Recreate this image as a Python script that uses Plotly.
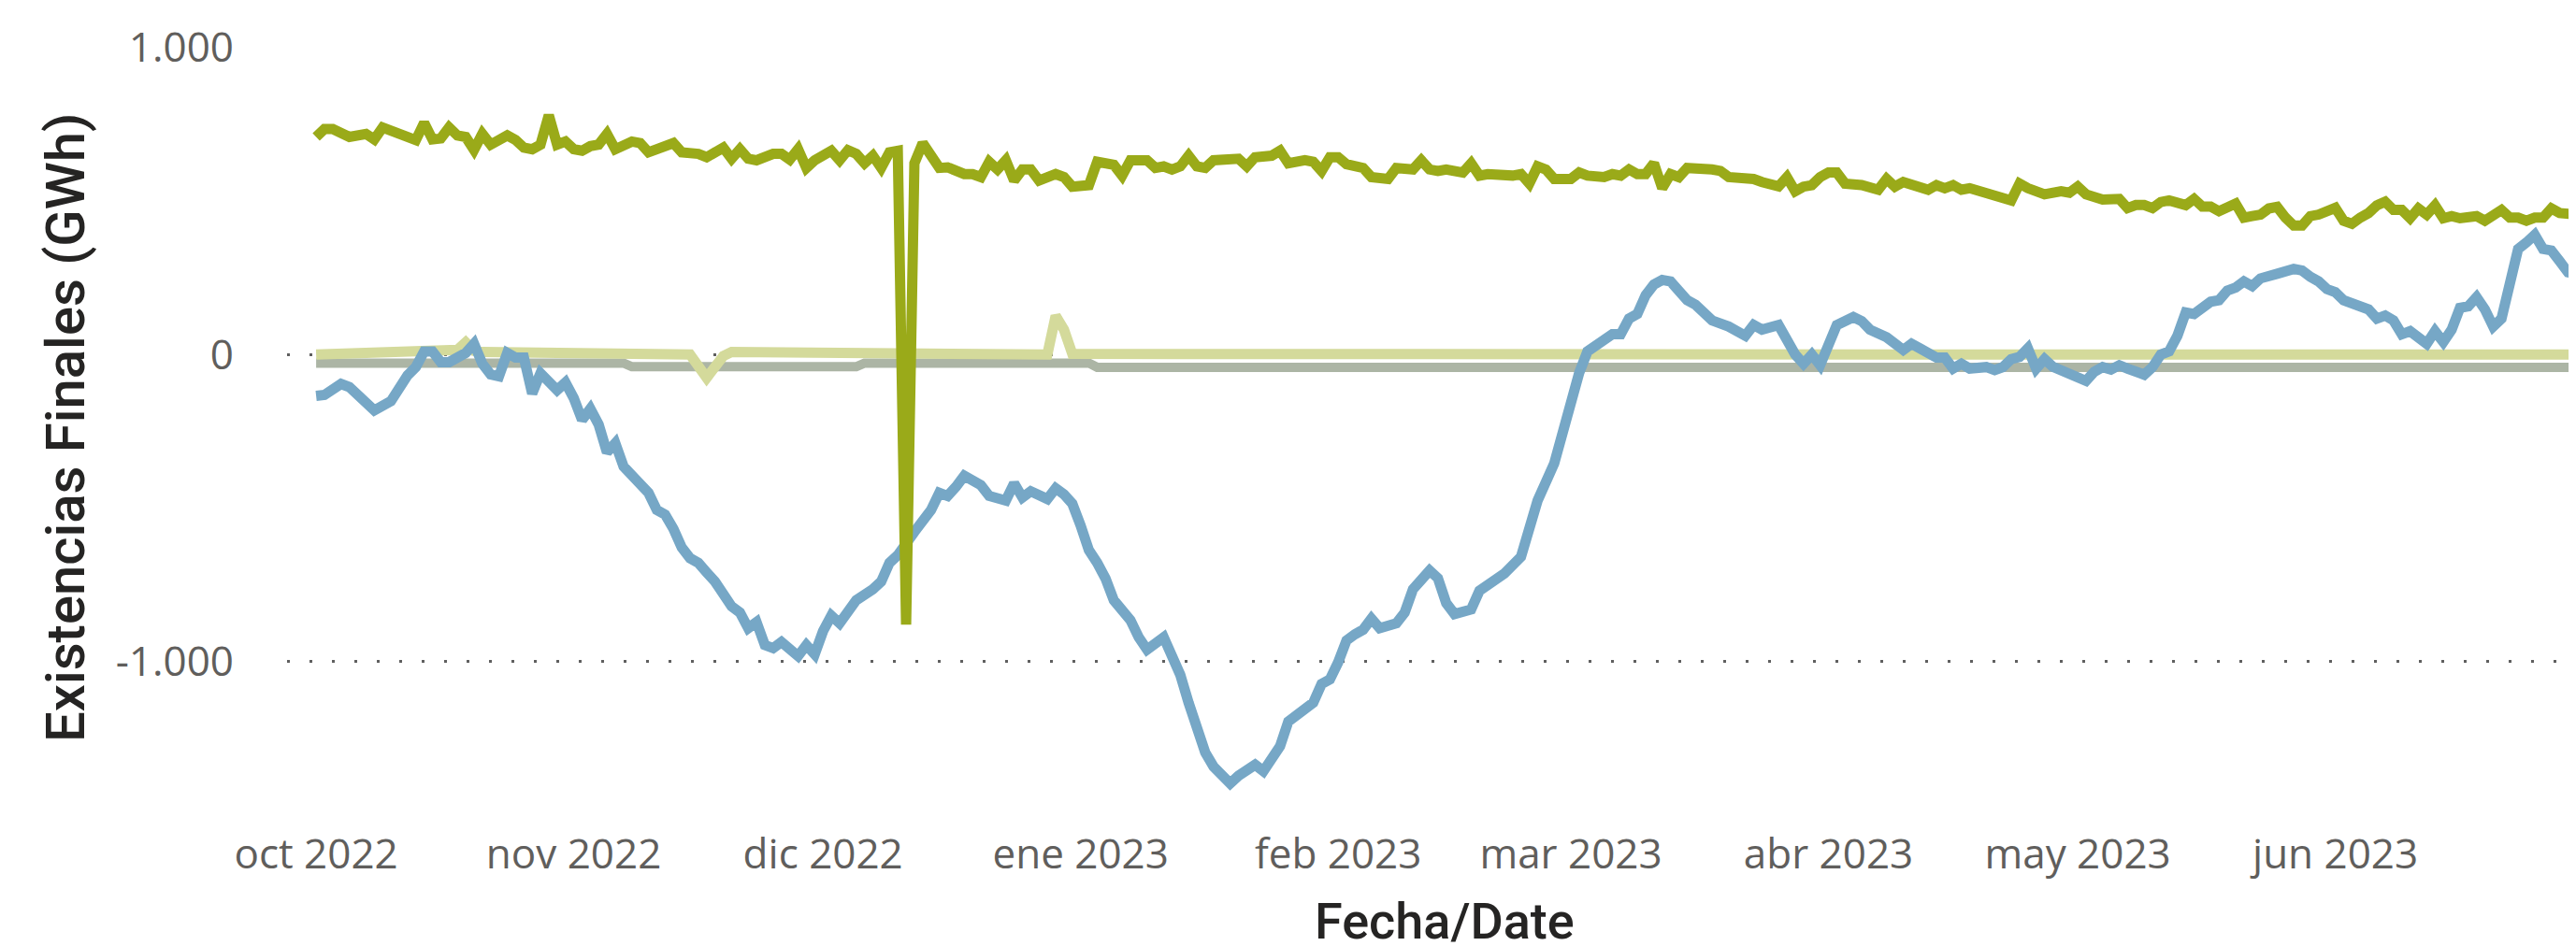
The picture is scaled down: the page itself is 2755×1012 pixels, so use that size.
import pandas as pd
import plotly.graph_objects as go

# ---------------- data (days since 2022-10-01, GWh) ----------------
START = "2022-10-01"

green_days = [0, 1, 2, 4, 6, 7, 8, 9, 12, 13, 14, 15, 16, 17, 18, 19, 20, 21, 23, 24, 25, 26, 27, 28, 29, 30,
              31, 32, 33, 34, 35, 36, 37, 38, 39, 40, 41, 43, 44, 46, 47, 49, 50, 51, 52, 53, 55, 56, 57, 58,
              59, 60, 62, 63, 64, 65, 66, 67, 68, 69, 70, 71, 72, 73, 75, 76, 78, 79, 80, 81, 82, 83, 84, 85,
              86, 87, 89, 90, 91, 93, 94, 96, 97, 98, 100, 101, 102, 103, 104, 105, 106, 107, 108, 110, 111,
              112, 113, 115, 116, 117, 119, 120, 121, 122, 123, 124, 126, 127, 128, 129, 130, 132, 133, 134,
              135, 136, 138, 139, 140, 141, 144, 145, 146, 147, 148, 149, 151, 152, 153, 155, 156, 157, 158,
              159, 160, 161, 162, 163, 164, 165, 168, 169, 170, 172, 173, 174, 176, 177, 178, 179, 180, 181,
              182, 183, 184, 186, 188, 189, 190, 191, 194, 195, 196, 197, 198, 199, 201, 202, 204, 205, 206,
              208, 210, 211, 212, 213, 214, 215, 217, 218, 219, 220, 221, 222, 223, 225, 226, 227, 228, 229,
              231, 232, 233, 234, 235, 236, 237, 238, 239, 240, 241, 243, 244, 245, 246, 247, 248, 249, 250,
              251, 252, 253, 254, 255, 256, 257, 258, 260, 261, 263, 264, 265, 266, 267, 268, 269, 270, 272]
green_vals = [709, 735, 735, 709, 719, 701, 740, 731, 699, 755, 701, 704, 740, 714, 709, 667, 719, 684, 714, 699,
              674, 669, 684, 780, 684, 694, 669, 664, 679, 684, 719, 669, 679, 694, 689, 659, 669, 689, 659, 654,
              643, 674, 638, 669, 638, 633, 654, 654, 635, 669, 608, 633, 664, 633, 666, 654, 623, 648, 608, 659,
              664, -880, 623, 689, 608, 610, 588, 588, 578, 628, 603, 633, 567, 603, 603, 567, 588, 578, 547, 552,
              628, 618, 583, 633, 633, 608, 613, 603, 613, 648, 613, 608, 633, 633, 638, 613, 643, 648, 664, 623,
              633, 628, 598, 643, 643, 620, 608, 578, 578, 572, 608, 603, 633, 603, 598, 603, 593, 623, 583, 588,
              583, 588, 557, 613, 603, 572, 572, 593, 583, 578, 588, 583, 603, 588, 588, 623, 542, 588, 578, 608,
              603, 598, 578, 578, 572, 562, 548, 578, 532, 547, 552, 578, 593, 593, 557, 552, 537, 572, 547, 562,
              537, 552, 542, 552, 537, 542, 527, 522, 502, 557, 542, 522, 532, 527, 547, 522, 517, 505, 507, 477,
              487, 487, 477, 497, 502, 487, 507, 482, 482, 467, 492, 446, 451, 456, 476, 481, 446, 420, 420, 451,
              456, 478, 436, 426, 446, 461, 486, 498, 471, 471, 444, 476, 456, 486, 444, 451, 444, 451, 436, 471,
              446, 446, 436, 446, 446, 476, 461, 456]

blue_days = [0, 1, 3, 4, 7, 9, 11, 12, 13, 14, 15, 16, 18, 19, 20, 21, 22, 23, 24, 25, 26, 27, 29, 30, 31, 32,
             33, 34, 35, 36, 37, 39, 40, 41, 42, 43, 44, 45, 46, 47, 48, 50, 51, 52, 53, 54, 55, 56, 58, 59, 60,
             61, 62, 63, 64, 65, 67, 68, 69, 70, 72, 74, 75, 76, 77, 78, 80, 81, 83, 84, 85, 86, 88, 89, 90, 91,
             92, 93, 94, 95, 96, 97, 98, 99, 100, 102, 103, 104, 105, 106, 107, 108, 110, 111, 113, 114, 115,
             116, 117, 118, 120, 121, 122, 123, 124, 125, 126, 127, 128, 130, 131, 132, 134, 135, 136, 137, 139,
             140, 141, 142, 143, 145, 146, 147, 149, 150, 151, 152, 153, 154, 155, 156, 157, 158, 159, 160, 161,
             162, 163, 165, 166, 167, 168, 170, 172, 173, 174, 176, 178, 179, 180, 181, 182, 183, 185, 186, 187,
             189, 191, 192, 193, 195, 196, 197, 198, 199, 201, 202, 203, 204, 205, 206, 207, 208, 209, 211, 213,
             214, 215, 216, 217, 218, 220, 221, 222, 223, 224, 225, 226, 228, 229, 230, 231, 232, 233, 234, 235,
             236, 238, 239, 240, 241, 242, 243, 244, 246, 247, 248, 249, 250, 251, 252, 253, 254, 255, 256, 257,
             258, 259, 260, 261, 262, 263, 264, 265, 266, 267, 268, 269, 270, 271, 272]
blue_vals = [-135, -132, -96, -106, -182, -152, -68, -41, 10, 10, -25, -25, 5, 35, -30, -65, -71, 5, -10, -10,
             -127, -61, -116, -91, -142, -213, -177, -228, -319, -289, -365, -431, -451, -507, -522, -568, -629,
             -664, -679, -710, -740, -821, -841, -892, -872, -947, -957, -937, -983, -947, -977, -902, -851, -876,
             -831, -801, -765, -740, -679, -654, -578, -507, -451, -461, -431, -395, -426, -461, -476, -420, -466,
             -446, -471, -436, -456, -486, -557, -638, -679, -730, -801, -831, -866, -922, -962, -922, -983, -1044,
             -1135, -1206, -1297, -1343, -1398, -1373, -1337, -1358, -1317, -1277, -1196, -1175, -1135, -1074,
             -1059, -1003, -932, -912, -897, -861, -892, -876, -841, -765, -704, -729, -810, -846, -831, -770,
             -750, -740, -714, -659, -578, -476, -355, -253, -152, -60, 10, 30, 46, 66, 66, 117, 132, 193, 228,
             243, 238, 177, 162, 132, 111, 91, 61, 96, 81, 96, 0, -30, 0, -35, 30, 96, 122, 109, 81, 56, 15, 35,
             20, -10, -10, -46, -30, -46, -41, -51, -41, -15, -8, 20, -46, -15, -40, -66, -86, -56, -41, -49, -35,
             -46, -66, -41, 0, 10, 61, 137, 132, 172, 177, 208, 218, 238, 223, 248, 253, 263, 279, 274, 253, 238,
             213, 203, 177, 152, 147, 117, 127, 111, 66, 76, 51, 35, 76, 41, 81, 152, 157, 187, 147, 91, 117, 233,
             344, 365, 390, 344, 339, 304, 268, 263]

yellow_days = [0, 12, 16, 17, 18, 19, 20, 30, 44, 45, 47, 49, 50, 60, 88, 89, 90, 91, 120, 200, 272]
yellow_vals = [0, 6, 8, 15, 40, 12, 8, 5, 2, 0, -76, -5, 8, 6, 0, 126, 81, 2, 0, 0, 0]

gray_days = [0, 37, 38, 65, 66, 93, 94, 272]
gray_vals = [-28, -28, -40, -40, -28, -28, -42, -42]

month_ticks = ["2022-10-01", "2022-11-01", "2022-12-01", "2023-01-01", "2023-02-01",
               "2023-03-01", "2023-04-01", "2023-05-01", "2023-06-01"]
month_labels = ["oct 2022", "nov 2022", "dic 2022", "ene 2023", "feb 2023",
                "mar 2023", "abr 2023", "may 2023", "jun 2023"]
y_ticks = [-1000, 0, 1000]
y_labels = ["-1.000", "0", "1.000"]


def to_dates(days):
    return pd.Timestamp(START) + pd.to_timedelta(days, unit="D")


series = [
    (gray_days, gray_vals, "#ACB5A5", 10),
    (yellow_days, yellow_vals, "#D4DA9B", 11),
    (blue_days, blue_vals, "#76A7C6", 11),
    (green_days, green_vals, "#9AAA19", 11),
]

fig = go.Figure()
for d, v, c, w in series:
    fig.add_trace(go.Scatter(x=to_dates(d), y=v, mode="lines",
                             line=dict(color=c, width=w), hoverinfo="skip", showlegend=False))

W, H = 2755, 1012
L, R, T, B = 299, 4, 42, 154

tick_font = dict(family="Open Sans, Noto Sans, sans-serif", size=44, color="#605E5C", weight=400)

fig.update_layout(
    width=W, height=H,
    margin=dict(l=L, r=R, t=T, b=B, pad=0),
    paper_bgcolor="white", plot_bgcolor="white",
    showlegend=False,
    xaxis=dict(
        type="date",
        range=["2022-09-27 12:00", "2023-06-30 10:00"],
        tickmode="array", tickvals=month_ticks, ticktext=month_labels,
        showgrid=False, zeroline=False, showline=False, ticks="",
        tickfont=tick_font, ticklabelstandoff=18,
    ),
    yaxis=dict(
        range=[-1483, 1003],
        tickmode="array", tickvals=y_ticks, ticktext=y_labels,
        showgrid=True, gridcolor="#5f5f5f", gridwidth=3, griddash="3px,21px",
        zeroline=False, showline=False, ticks="",
        tickfont=tick_font, ticklabelstandoff=56,
    ),
    annotations=[
        dict(text="Existencias Finales (GWh)", xref="paper", yref="paper",
             x=(62 - L) / (W - L - R), y=0.5, xanchor="center", yanchor="middle",
             textangle=-90, showarrow=False,
             font=dict(family="Roboto, sans-serif", size=58, color="#252423", weight=500)),
        dict(text="Fecha/Date", xref="paper", yref="paper",
             x=0.505, y=(H - B - 978) / (H - T - B), xanchor="center", yanchor="middle",
             showarrow=False,
             font=dict(family="Roboto, sans-serif", size=54, color="#252423", weight=500)),
    ],
)

fig.write_html("out.html")
